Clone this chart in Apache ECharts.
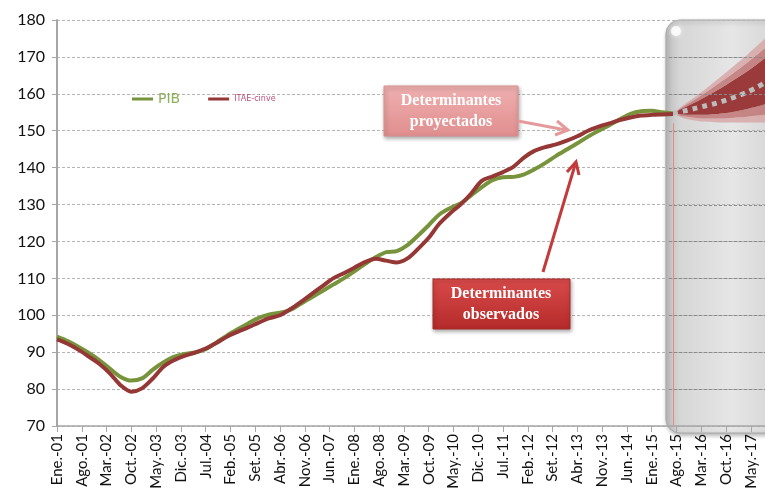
<!DOCTYPE html>
<html>
<head>
<meta charset="utf-8">
<script src="https://cdn.jsdelivr.net/npm/echarts@6/dist/echarts.min.js"></script>
<style>
  html, body { margin: 0; padding: 0; background: #fff; }
  #main { width: 765px; height: 500px; }
</style>
</head>
<body>
<div id="main"></div>
<script>
// meses (etiquetas del eje)
var monthNames = ['Ene.', 'Feb.', 'Mar.', 'Abr.', 'May.', 'Jun.', 'Jul.', 'Ago.', 'Set.', 'Oct.', 'Nov.', 'Dic.'];
var firstYear = 2001;
var nMonths = 201; // Ene.-01 .. Set.-17
var yMin = 70, yMax = 180, yStep = 10;

// valores trimestrales (indice de mes 0, 3, 6, ...)
var pib = [94.2, 93.0, 91.5, 89.8, 87.8, 85.5, 83.3, 82.3, 82.9, 85.2,
           87.2, 88.7, 89.5, 89.9, 90.8, 92.6, 94.5, 96.2, 97.8, 99.3,
           100.2, 100.7, 101.5, 103.2, 104.9, 106.6, 108.3, 110.0, 111.9, 113.9,
           115.7, 117.1, 117.4, 119.0, 121.6, 124.4, 127.3, 129.0, 130.3, 132.5,
           134.7, 136.6, 137.4, 137.5, 138.2, 139.6, 141.3, 143.2, 144.9, 146.6,
           148.4, 150.0, 151.5, 153.1, 154.6, 155.3, 155.4, 155.0, 154.7];
var itae = [93.5, 92.3, 90.7, 88.8, 86.8, 84.2, 81.0, 79.3, 80.2, 82.8,
            86.0, 87.8, 89.0, 89.9, 91.0, 92.5, 94.2, 95.5, 96.7, 98.0,
            99.2, 100.0, 101.7, 103.7, 105.8, 107.9, 110.0, 111.4, 112.9, 114.4,
            115.3, 114.8, 114.3, 115.4, 118.0, 121.0, 124.8, 127.6, 130.0, 133.0,
            136.4, 137.6, 138.8, 140.3, 142.8, 144.6, 145.6, 146.3, 147.3, 148.5,
            150.0, 151.1, 152.0, 152.9, 153.6, 154.1, 154.3, 154.4, 154.5];

// proyeccion (abanico)
var projIdx = [174, 177, 180, 183, 186, 189, 192, 195, 198, 200];
var projMid = [154.7, 155.3, 156.0, 156.7, 157.4, 158.3, 159.3, 160.5, 161.9, 163.0];
var fanHi3 = [154.7, 157.0, 159.0, 161.2, 163.5, 165.8, 168.2, 170.6, 173.2, 175.0];
var fanHi2 = [154.7, 156.6, 158.3, 160.2, 162.2, 164.2, 166.3, 168.5, 170.8, 172.4];
var fanHi1 = [154.7, 156.2, 157.6, 159.1, 160.7, 162.4, 164.2, 166.1, 168.2, 169.7];
var fanLo1 = [154.7, 154.4, 154.3, 154.3, 154.5, 154.8, 155.3, 155.9, 156.6, 157.2];
var fanLo2 = [154.7, 153.9, 153.5, 153.3, 153.3, 153.4, 153.6, 153.8, 154.1, 154.3];
var fanLo3 = [154.7, 153.4, 152.8, 152.5, 152.3, 152.2, 152.2, 152.2, 152.2, 152.2];
var boxStart = 174; // inicio del periodo proyectado (Jul.-15)

var categories = [];
for (var i = 0; i < nMonths; i++) {
    var yy = (firstYear + Math.floor(i / 12)) % 100;
    categories.push(monthNames[i % 12] + '-' + (yy < 10 ? '0' + yy : '' + yy));
}

function pairs(idx, vals) {
    var out = [];
    for (var k = 0; k < vals.length; k++) out.push([idx[k], vals[k]]);
    return out;
}
function diff(idx, a, b) {
    var out = [];
    for (var k = 0; k < a.length; k++) out.push([idx[k], +(a[k] - b[k]).toFixed(2)]);
    return out;
}
var histIdx = [];
for (var q = 0; q < pib.length; q++) histIdx.push(q * 3);

var chart = echarts.init(document.getElementById('main'));

function fan(name, data, color) {
    return {
        name: name, type: 'line', stack: 'fan', smooth: 0.3, symbol: 'none',
        data: data, z: 3, silent: true,
        lineStyle: { width: 0 },
        areaStyle: { color: color, opacity: 1 }
    };
}

var serif = '"Liberation Serif", "DejaVu Serif", serif';

var option = {
    animation: false,
    grid: { left: 57, right: 0, top: 20, bottom: 74 },
    legend: {
        left: 127, top: 87,
        icon: 'rect', itemWidth: 21, itemHeight: 3, itemGap: 28,
        data: [
            { name: 'PIB', textStyle: { color: '#8DAE5C', fontSize: 14, fontFamily: 'DejaVu Sans' } },
            { name: 'ITAE-cinve', textStyle: { color: '#C0507A', fontSize: 8, fontFamily: 'DejaVu Sans' } }
        ]
    },
    xAxis: {
        type: 'category', data: categories, boundaryGap: false,
        axisLine: { lineStyle: { color: '#A6A6A6', width: 1.5 } },
        axisTick: { interval: 6, length: 6, lineStyle: { color: '#A6A6A6' } },
        axisLabel: { interval: 6, rotate: 90, color: '#111', fontSize: 15, fontFamily: 'Lato', margin: 8 },
        splitLine: { show: false }
    },
    yAxis: {
        type: 'value', min: yMin, max: yMax, interval: yStep,
        axisLine: { show: true, lineStyle: { color: '#A6A6A6', width: 2 } },
        axisTick: { show: true, length: 5, lineStyle: { color: '#A6A6A6' } },
        axisLabel: { color: '#111', fontSize: 16, fontFamily: 'Lato', margin: 12 },
        splitLine: { lineStyle: { color: '#B5B5B5', type: [3, 2], width: 1 } }
    },
    series: [
        fan('base', pairs(projIdx, fanLo3), 'rgba(0,0,0,0)'),
        fan('b1', diff(projIdx, fanLo2, fanLo3), 'rgba(215,160,160,0.75)'),
        fan('b2', diff(projIdx, fanLo1, fanLo2), 'rgba(190,110,110,0.8)'),
        fan('b3', diff(projIdx, fanHi1, fanLo1), '#9A3A3A'),
        fan('b4', diff(projIdx, fanHi2, fanHi1), 'rgba(190,110,110,0.8)'),
        fan('b5', diff(projIdx, fanHi3, fanHi2), 'rgba(215,160,160,0.75)'),
        {
            name: 'proy', type: 'line', smooth: 0.3, symbol: 'none', z: 4, silent: true,
            data: pairs(projIdx, projMid),
            lineStyle: { color: '#BDBDBD', width: 5, type: [5, 5], cap: 'butt' },
            markLine: {
                silent: true, symbol: 'none', label: { show: false },
                lineStyle: { color: '#E38A8A', width: 1, type: 'solid' },
                data: [[{ coord: [boxStart, 152] }, { coord: [boxStart, yMin] }]]
            }
        },
        {
            name: 'PIB', type: 'line', smooth: 0.3, symbol: 'none', z: 5,
            data: pairs(histIdx, pib),
            itemStyle: { color: '#77933C' },
            lineStyle: { color: '#77933C', width: 4 }
        },
        {
            name: 'ITAE-cinve', type: 'line', smooth: 0.3, symbol: 'none', z: 5,
            data: pairs(histIdx, itae),
            itemStyle: { color: '#953735' },
            lineStyle: { color: '#953735', width: 4 }
        }
    ]
};

chart.setOption(option);

// caja gris del periodo proyectado (posicion tomada de los ejes)
var pTop = chart.convertToPixel({ gridIndex: 0 }, [boxStart, yMax]);
var pBot = chart.convertToPixel({ gridIndex: 0 }, [boxStart, yMin]);
var bx = pTop[0] - 7, by = pTop[1];
var gfx = [
    {
        type: 'rect', z: -2, silent: true,
        shape: { x: bx, y: by, width: 120, height: pBot[1] - by + 7, r: 14 },
        style: {
            fill: new echarts.graphic.LinearGradient(0, 0, 1, 0, [
                { offset: 0, color: '#BDBDBD' },
                { offset: 0.12, color: '#D6D6D6' },
                { offset: 0.55, color: '#E6E6E6' },
                { offset: 1, color: '#D2D2D2' }
            ]),
            stroke: '#A8A8A8', lineWidth: 1,
            shadowBlur: 4, shadowColor: 'rgba(0,0,0,0.3)', shadowOffsetX: 1, shadowOffsetY: 2
        }
    },
    {
        type: 'circle', z: -1, silent: true,
        shape: { cx: bx + 10, cy: by + 11, r: 5 },
        style: { fill: 'rgba(255,255,255,0.8)', shadowBlur: 5, shadowColor: 'rgba(255,255,255,0.9)' }
    }
];
// grilla sobre la caja: segmentos cortos, como lineas de guiones
for (var v = yMin + yStep; v < yMax; v += yStep) {
    var gy = Math.round(chart.convertToPixel({ gridIndex: 0 }, [boxStart, v])[1]) + 0.5;
    for (var gx = bx + 3; gx < bx + 100; gx += 5) {
        gfx.push({
            type: 'line', z: 20, silent: true,
            shape: { x1: gx, y1: gy, x2: gx + 3, y2: gy },
            style: { stroke: '#8A8A8A', lineWidth: 1 }
        });
    }
}

// cuadros de texto y flechas
gfx = gfx.concat([
    {
        type: 'rect', z: 30,
        shape: { x: 384, y: 86, width: 134, height: 50 },
        style: {
            fill: new echarts.graphic.LinearGradient(0, 0, 0, 1, [
                { offset: 0, color: '#EFB0B0' },
                { offset: 1, color: '#E08E8E' }
            ]),
            stroke: '#D89090', lineWidth: 1,
            shadowBlur: 4, shadowColor: 'rgba(0,0,0,0.35)', shadowOffsetX: 1, shadowOffsetY: 2
        }
    },
    {
        type: 'text', z: 31, x: 451, y: 111,
        style: {
            text: 'Determinantes\nproyectados', fill: '#fff', align: 'center', verticalAlign: 'middle',
            font: 'bold 16px ' + serif, lineHeight: 21
        }
    },
    {
        type: 'line', z: 30,
        shape: { x1: 518, y1: 121, x2: 566, y2: 130 },
        style: { stroke: '#E49A9A', lineWidth: 3 }
    },
    {
        type: 'polyline', z: 30,
        shape: { points: [[557, 121], [568, 130], [555, 135]] },
        style: { stroke: '#E49A9A', lineWidth: 3, fill: null }
    },
    {
        type: 'rect', z: 30,
        shape: { x: 433, y: 279, width: 137, height: 50 },
        style: {
            fill: new echarts.graphic.LinearGradient(0, 0, 0, 1, [
                { offset: 0, color: '#D94B4B' },
                { offset: 1, color: '#B52A2A' }
            ]),
            stroke: '#A82A2A', lineWidth: 1,
            shadowBlur: 4, shadowColor: 'rgba(0,0,0,0.35)', shadowOffsetX: 1, shadowOffsetY: 2
        }
    },
    {
        type: 'text', z: 31, x: 501, y: 304,
        style: {
            text: 'Determinantes\nobservados', fill: '#fff', align: 'center', verticalAlign: 'middle',
            font: 'bold 16px ' + serif, lineHeight: 21
        }
    },
    {
        type: 'line', z: 30,
        shape: { x1: 543, y1: 272, x2: 575, y2: 165 },
        style: { stroke: '#C23A3A', lineWidth: 3 }
    },
    {
        type: 'polyline', z: 30,
        shape: { points: [[567, 172], [576, 162], [579, 175]] },
        style: { stroke: '#C23A3A', lineWidth: 3, fill: null }
    }
]);

chart.setOption({ graphic: gfx });
</script>
</body>
</html>
